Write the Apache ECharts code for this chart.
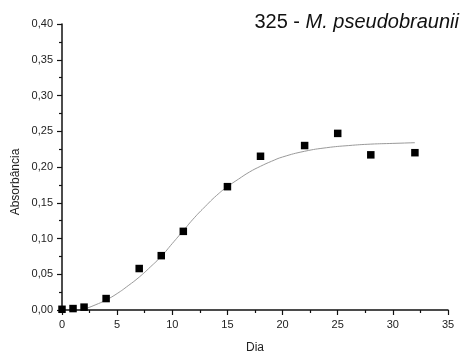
<!DOCTYPE html>
<html>
<head>
<meta charset="utf-8">
<script src="https://cdn.jsdelivr.net/npm/echarts@6/dist/echarts.min.js"></script>
<style>
  html, body { margin: 0; padding: 0; background: #fff; }
  #chart { width: 469px; height: 360px; }
</style>
</head>
<body>
<div id="chart"></div>
<script>
// Measured absorbance per day
const days = [0, 1, 2, 4, 7, 9, 11, 15, 18, 22, 25, 28, 32];
const absorbance = [0.001, 0.002, 0.004, 0.016, 0.058, 0.076, 0.110, 0.1725, 0.215, 0.230, 0.247, 0.217, 0.220];

// Fitted growth curve (sigmoidal), sampled along the day axis
const fitDays = [2, 3, 4, 5, 6, 7, 8, 9, 10, 11, 12, 13, 14, 15, 16, 17, 18, 19, 20, 22, 24, 26, 28, 30, 32];
const fitValues = [0.001, 0.007, 0.014, 0.023, 0.034, 0.046, 0.060, 0.075, 0.093, 0.111, 0.129, 0.145, 0.160, 0.1725, 0.183, 0.193, 0.201, 0.208, 0.214, 0.222, 0.227, 0.230, 0.232, 0.233, 0.234];

const titleNumber = '325 - ';
const titleSpecies = 'M. pseudobraunii';
const xTitle = 'Dia';
const yTitle = 'Absorbância';

const FONT = '"Liberation Sans", Arial, sans-serif';

const chart = echarts.init(document.getElementById('chart'), null, { renderer: 'canvas' });

const comma = v => v.toFixed(2).replace('.', ',');

chart.setOption({
  animation: false,
  backgroundColor: '#fff',
  title: {
    text: '{n|' + titleNumber + '}{s|' + titleSpecies + '}',
    right: 5,
    top: 7,
    textStyle: {
      fontWeight: 'normal',
      rich: {
        n: { fontFamily: FONT, fontSize: 20, color: '#111', fontWeight: 'normal' },
        s: { fontFamily: FONT, fontSize: 20, color: '#111', fontStyle: 'italic', fontWeight: 'normal' }
      }
    }
  },
  grid: { left: 62, right: 21, top: 24, bottom: 50 },
  xAxis: {
    type: 'value',
    min: 0, max: 35, interval: 5,
    name: xTitle,
    nameLocation: 'middle',
    nameGap: 32,
    nameTextStyle: { fontFamily: FONT, fontSize: 12, color: '#222' },
    axisLine: { lineStyle: { color: '#111', width: 1.5 } },
    axisTick: { inside: false, length: 5, lineStyle: { color: '#111', width: 1.2 } },
    minorTick: { show: true, splitNumber: 2, length: 3, lineStyle: { color: '#111', width: 1.2 } },
    axisLabel: { fontFamily: FONT, fontSize: 11, color: '#222', margin: 9 },
    splitLine: { show: false }
  },
  yAxis: {
    type: 'value',
    min: 0, max: 0.4, interval: 0.05,
    axisLine: { show: true, lineStyle: { color: '#111', width: 1.5 } },
    axisTick: { show: true, inside: false, length: 5, lineStyle: { color: '#111', width: 1.2 } },
    minorTick: { show: true, splitNumber: 2, length: 3, lineStyle: { color: '#111', width: 1.2 } },
    axisLabel: { fontFamily: FONT, fontSize: 11, color: '#222', margin: 9, formatter: comma },
    splitLine: { show: false }
  },
  graphic: [{
    type: 'text',
    x: 16, y: 182,
    rotation: Math.PI / 2,
    style: {
      text: yTitle,
      font: '12px ' + FONT,
      fill: '#222',
      textAlign: 'center',
      textVerticalAlign: 'middle'
    }
  }],
  series: [
    {
      name: 'fit',
      type: 'line',
      data: fitDays.map((d, i) => [d, fitValues[i]]),
      smooth: true,
      showSymbol: false,
      clip: false,
      lineStyle: { color: '#9a9a9a', width: 1 },
      z: 2
    },
    {
      name: 'absorbance',
      type: 'scatter',
      data: days.map((d, i) => [d, absorbance[i]]),
      symbol: 'rect',
      symbolSize: 7.5,
      clip: false,
      itemStyle: { color: '#000', opacity: 1 },
      z: 3
    }
  ]
});
</script>
</body>
</html>
